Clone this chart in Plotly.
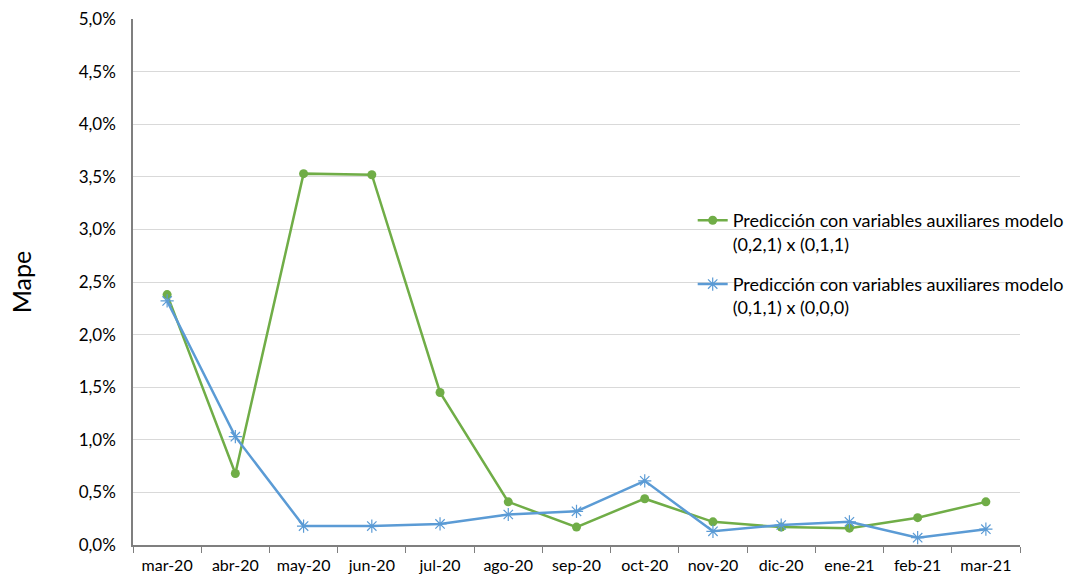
import plotly.graph_objects as go

months = ["mar-20", "abr-20", "may-20", "jun-20", "jul-20", "ago-20", "sep-20",
          "oct-20", "nov-20", "dic-20", "ene-21", "feb-21", "mar-21"]

# MAPE (%) for each model
mape_021_011 = [2.38, 0.68, 3.53, 3.52, 1.45, 0.41, 0.17, 0.44, 0.22, 0.17, 0.16, 0.26, 0.41]
mape_011_000 = [2.32, 1.03, 0.18, 0.18, 0.20, 0.29, 0.32, 0.61, 0.13, 0.19, 0.22, 0.07, 0.15]

name_a = "Predicción con variables auxiliares modelo<br>(0,2,1) x (0,1,1)"
name_b = "Predicción con variables auxiliares modelo<br>(0,1,1) x (0,0,0)"

GREEN = "#70AD47"
BLUE = "#5B9BD5"
FONT = "Lato, Calibri, Carlito, sans-serif"

fig = go.Figure()
fig.add_trace(go.Scatter(
    x=months, y=[v / 100 for v in mape_021_011], name=name_a,
    mode="lines+markers", legendgroup="a",
    line=dict(color=GREEN, width=2.5),
    marker=dict(symbol="circle", size=9, color=GREEN),
))
fig.add_trace(go.Scatter(
    x=months, y=[v / 100 for v in mape_011_000], name=name_b,
    mode="lines+markers", legendgroup="b",
    line=dict(color=BLUE, width=2.5),
    marker=dict(symbol="asterisk-open", size=11, color=BLUE,
                line=dict(color=BLUE, width=1.2)),
))

fig.update_layout(
    width=1065, height=577,
    margin=dict(l=133, r=45, t=19, b=32, autoexpand=False),
    paper_bgcolor="white", plot_bgcolor="white",
    separators=",.",
    font=dict(family=FONT, size=16, color="#000000"),
    showlegend=True,
    legend=dict(
        x=0.631, y=0.652, xanchor="left", yanchor="top",
        bgcolor="rgba(0,0,0,0)", valign="top",
        font=dict(size=18, family=FONT),
        tracegroupgap=14,
    ),
    xaxis=dict(
        type="category", tickson="boundaries",
        ticks="outside", ticklen=6, tickcolor="#7F7F7F",
        showline=True, linecolor="#7F7F7F", linewidth=1.5,
        showgrid=False, tickfont=dict(size=16, family=FONT),
        ticklabelstandoff=5,
        range=[-0.5, 12.5],
    ),
    yaxis=dict(
        range=[0, 0.05], dtick=0.005, tickformat=".1%",
        showline=True, linecolor="#7F7F7F", linewidth=1.5,
        showgrid=True, gridcolor="#D9D9D9", gridwidth=1,
        zeroline=False, ticks="", ticklen=0,
        ticklabelstandoff=12,
        tickfont=dict(size=17, family=FONT),
        title=dict(text="Mape", font=dict(size=25, family=FONT), standoff=40),
    ),
)

fig.write_html("out.html")
